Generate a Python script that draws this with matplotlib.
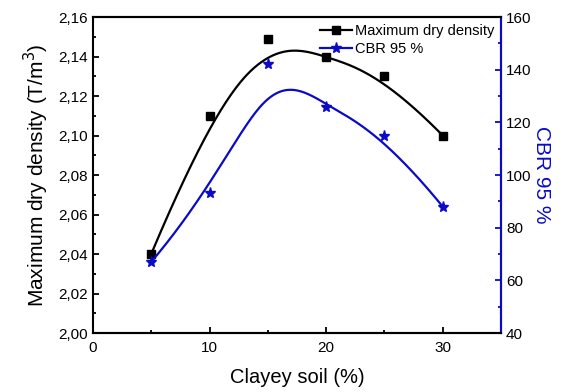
import numpy as np
import matplotlib
matplotlib.use('Agg')
import matplotlib.pyplot as plt
from matplotlib.lines import Line2D
from matplotlib.ticker import FuncFormatter, MultipleLocator

plt.rcParams['font.family'] = ['Liberation Sans', 'DejaVu Sans']

clay = [5, 10, 15, 20, 25, 30]
mdd = [2.040, 2.110, 2.149, 2.140, 2.130, 2.100]
cbr = [67, 93, 142, 126, 115, 88]

BLUE = '#0a0ac8'


def bspline(xs, ys, n=300):
    # clamped cubic B-spline using the data points as control points (Origin style)
    pts = np.column_stack([xs, ys]).astype(float)
    k = 3
    m = len(pts)
    knots = np.concatenate([[0] * k, np.arange(m - k + 1), [m - k] * k]).astype(float)
    ts = np.linspace(0, m - k, n)
    out = []
    for t in ts:
        if t >= knots[-1]:
            out.append(pts[-1])
            continue
        N = np.array([1.0 if knots[i] <= t < knots[i + 1] else 0.0
                      for i in range(len(knots) - 1)])
        for d in range(1, k + 1):
            Nn = np.zeros(len(knots) - 1 - d)
            for i in range(len(Nn)):
                a = 0.0
                if knots[i + d] != knots[i]:
                    a = (t - knots[i]) / (knots[i + d] - knots[i]) * N[i]
                b = 0.0
                if knots[i + d + 1] != knots[i + 1]:
                    b = (knots[i + d + 1] - t) / (knots[i + d + 1] - knots[i + 1]) * N[i + 1]
                Nn[i] = a + b
            N = Nn
        out.append(N @ pts)
    out = np.array(out)
    return out[:, 0], out[:, 1]


fig = plt.figure(figsize=(5.63, 3.92), dpi=100)
ax = fig.add_axes([0.165, 0.1505, 0.725, 0.806])
ax2 = ax.twinx()

sx, sy = bspline(clay, mdd)
ax.plot(sx, sy, color='black', lw=1.6, zorder=2)
ax.plot(clay, mdd, 's', color='black', ms=6, zorder=3)

bx, by = bspline(clay, cbr)
ax2.plot(bx, by, color=BLUE, lw=1.6, zorder=2)
ax2.plot(clay, cbr, '*', color=BLUE, ms=8, zorder=3)

ax.set_xlim(0, 35)
ax.set_ylim(2.00, 2.16)
ax2.set_ylim(40, 160)

ax.xaxis.set_major_locator(MultipleLocator(10))
ax.xaxis.set_minor_locator(MultipleLocator(5))
ax.yaxis.set_major_locator(MultipleLocator(0.02))
ax.yaxis.set_minor_locator(MultipleLocator(0.01))
ax2.yaxis.set_major_locator(MultipleLocator(20))
ax2.yaxis.set_minor_locator(MultipleLocator(10))
ax.yaxis.set_major_formatter(FuncFormatter(lambda v, p: f'{v:.2f}'.replace('.', ',')))

for a in (ax, ax2):
    for s in a.spines.values():
        s.set_linewidth(1.5)
ax2.spines['right'].set_color(BLUE)
ax2.spines['left'].set_visible(False)

ax.tick_params(which='both', direction='in', labelsize=11, width=1.3, top=False, right=False)
ax.tick_params(which='major', length=4)
ax.tick_params(which='minor', length=2.5)
ax.tick_params(axis='x', pad=6)
ax2.tick_params(which='both', direction='in', labelsize=11, color=BLUE, width=1.3)
ax2.tick_params(which='major', length=4)
ax2.tick_params(which='minor', length=2.5)

ax.set_xlabel('Clayey soil (%)', fontsize=14.5, labelpad=9)
ax.set_ylabel('Maximum dry density (T/m$^3$)', fontsize=15, labelpad=5)
ax2.set_ylabel('CBR 95 %', fontsize=15, color=BLUE, rotation=270, labelpad=14)

handles = [
    Line2D([], [], color='black', lw=1.6, marker='s', ms=6),
    Line2D([], [], color=BLUE, lw=1.6, marker='*', ms=8),
]
ax2.legend(handles, ['Maximum dry density', 'CBR 95 %'], loc='upper right',
           frameon=False, fontsize=10.5, handlelength=2.2, handletextpad=0.2,
           borderaxespad=0.05, labelspacing=0.3)

fig.savefig('out.png', dpi=100, facecolor='white')
